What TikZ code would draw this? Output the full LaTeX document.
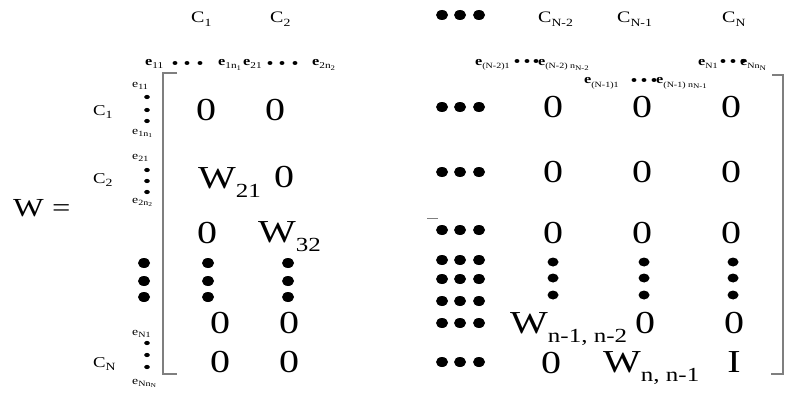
\documentclass[tikz,border=0pt]{standalone}
\usepackage{fontspec}
\setmainfont{Liberation Serif}[FakeStretch=1.25]
\usepackage{tikz}
\definecolor{rulegray}{HTML}{7F7F7F}
\newcommand\lowered[3]{\raisebox{-#1}{\fontsize{#2}{#2}\selectfont #3}}
\newcommand\wsub{\lowered{9pt}{20}}
\newcommand\csub{\lowered{3.5pt}{11}}
\newcommand\esub{\lowered{3pt}{9}}
\newcommand\nsub{\lowered{3pt}{8}}
\newcommand\tsub{\lowered{2pt}{7}}
\newcommand\rsub{\lowered{2pt}{8}}
\newcommand\rrsub{\lowered{1.5pt}{6}}
\tikzset{
  ent/.style={anchor=base,inner sep=0pt,font=\fontsize{32}{32}\selectfont},
  went/.style={ent,anchor=base west},
  clab/.style={anchor=base west,inner sep=0pt,font=\fontsize{16}{16}\selectfont},
  elab/.style={anchor=base west,inner sep=0pt,font=\fontsize{13}{13}\selectfont},
  rlab/.style={anchor=base west,inner sep=0pt,font=\fontsize{11}{11}\selectfont},
  brk/.style={rulegray,line width=1.2pt}
}

\begin{document}
\begin{tikzpicture}[x=1pt,y=-1pt]
\path[fill=white,use as bounding box] (0,0) rectangle (795,396);
% column labels
\node[clab] (c1) at (191,23) {C\csub{1}};
\node[clab] (c2) at (270,23) {C\csub{2}};
\node[clab] (cn2) at (538,23) {C\csub{N-2}};
\node[clab] (cn1) at (617,23) {C\csub{N-1}};
\node[clab] (cn) at (722,23) {C\csub{N}};
\foreach \x in {442,460,479} \fill (\x,15) ellipse (6 and 5);
\node[elab] (e11) at (145,66) {\textbf{e}\esub{11}};
\node[elab] (e1n) at (218,66) {\textbf{e}\esub{1n\tsub{1}}};
\node[elab] (e21) at (243,66) {\textbf{e}\esub{21}};
\node[elab] (e2n) at (312,66) {\textbf{e}\esub{2n\tsub{2}}};
\node[elab] (en21) at (475,66) {\textbf{e}\nsub{(N-2)1}};
\node[elab] (en2n) at (538,66) {\textbf{e}\nsub{(N-2) n\tsub{N-2}}};
\node[elab] (en11) at (584,84) {\textbf{e}\nsub{(N-1)1}};
\node[elab] (en1n) at (656,84) {\textbf{e}\nsub{(N-1) n\tsub{N-1}}};
\node[elab] (eN1) at (698,66) {\textbf{e}\nsub{N1}};
\node[elab] (eNn) at (740,66) {\textbf{e}\nsub{Nn\tsub{N}}};
\foreach \x in {175,187,200,270,282,295} \fill (\x,63) ellipse (2.4 and 2);
\foreach \x in {517,527,536,723,733,743} \fill (\x,61) ellipse (2.4 and 2);
\foreach \x in {634,644,654} \fill (\x,80) ellipse (2.4 and 2);
% row labels
\node[anchor=base west,inner sep=0pt,font=\fontsize{26}{26}\selectfont] (w) at (13,216) {W =};
\node[clab,font=\fontsize{15}{15}\selectfont] (r1) at (93,115) {C\csub{1}};
\node[clab,font=\fontsize{15}{15}\selectfont] (r2) at (93,183) {C\csub{2}};
\node[clab,font=\fontsize{15}{15}\selectfont] (rn) at (93,367) {C\csub{N}};
\node[rlab] (f11) at (132,87) {e\rsub{11}};
\node[rlab] (f1n) at (132,134) {e\rsub{1n\rrsub{1}}};
\node[rlab] (f21) at (132,159) {e\rsub{21}};
\node[rlab] (f2n) at (132,203) {e\rsub{2n\rrsub{2}}};
\node[rlab] (fN1) at (132,335) {e\rsub{N1}};
\node[rlab] (fNn) at (132,384) {e\rsub{Nn\rrsub{N}}};
\foreach \y in {97,110,121,170,181,192,343,355,367} \fill (147,\y) ellipse (2.8 and 2.1);
% brackets
\draw[brk] (177,73) -- (163,73) -- (163,374) -- (177,374);
\draw[brk] (772,75) -- (783,75) -- (783,374) -- (771,374);
% entries
\node[ent] (a11) at (206,120) {0};
\node[ent] (a12) at (275,120) {0};
\node[went] (a21) at (198,188) {W\wsub{21}};
\node[ent] (a22) at (284,187) {0};
\node[ent] (a31) at (207,243) {0};
\node[went] (a32) at (258,242) {W\wsub{32}};
\node[ent] (a51) at (220,333) {0};
\node[ent] (a52) at (289,333) {0};
\node[ent] (a61) at (220,372) {0};
\node[ent] (a62) at (289,372) {0};
\foreach \x in {144,208,288} \foreach \y in {263,281,297} \fill (\x,\y) ellipse (6 and 5);
\foreach \y in {107,172,230,260,279,301,323,362} \foreach \x in {442,460,479} \fill (\x,\y) ellipse (6 and 5);
\draw[rulegray,line width=0.8pt] (427,218) -- (438,218);
\node[ent] (b11) at (553,117) {0};
\node[ent] (b12) at (642,117) {0};
\node[ent] (b13) at (731,117) {0};
\node[ent] (b21) at (553,182) {0};
\node[ent] (b22) at (642,182) {0};
\node[ent] (b23) at (731,182) {0};
\node[ent] (b31) at (553,243) {0};
\node[ent] (b32) at (642,243) {0};
\node[ent] (b33) at (731,243) {0};
\foreach \x in {553,644,733} \foreach \y in {262,278,295} \fill (\x,\y) ellipse (5.5 and 4.5);
\node[went] (b51) at (510,333) {W\wsub{n-1, n-2}};
\node[ent] (b52) at (645,333) {0};
\node[ent] (b53) at (734,333) {0};
\node[ent] (b61) at (551,373) {0};
\node[went] (b62) at (603,372) {W\wsub{n, n-1}};
\node[ent] (b63) at (734,372) {I};
\end{tikzpicture}
\end{document}
